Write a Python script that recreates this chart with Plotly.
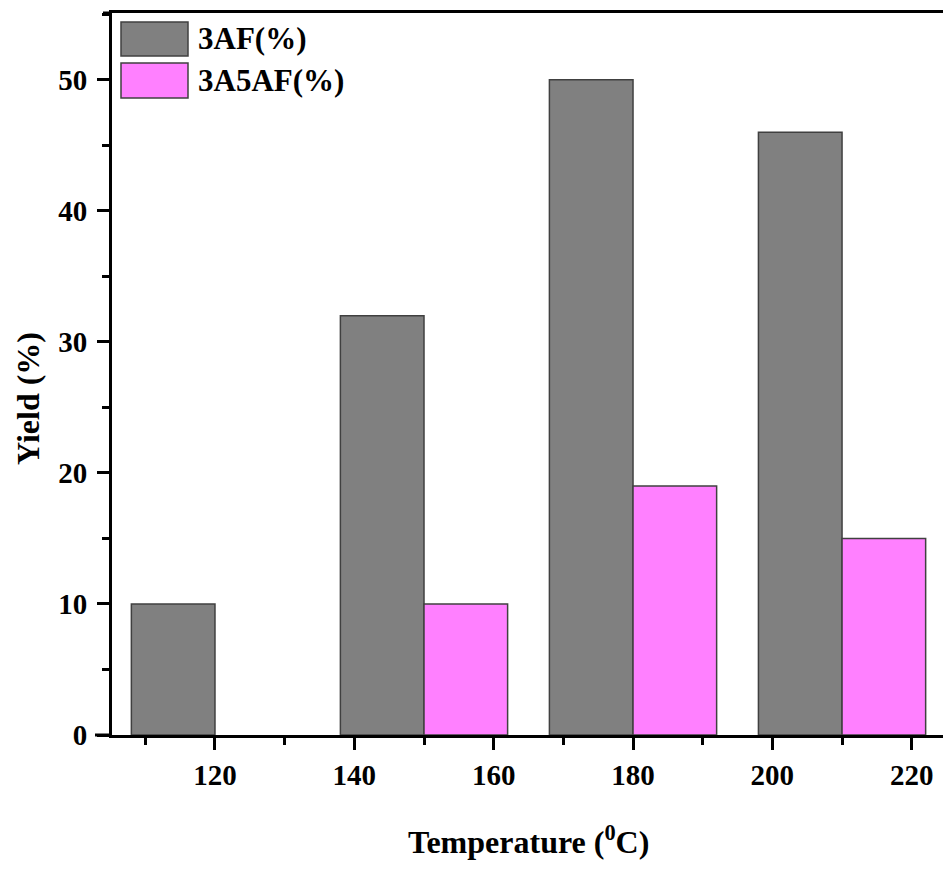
import plotly.graph_objects as go

# Data
temperatures = [120, 150, 180, 210]
yield_3af = [10, 32, 50, 46]
yield_3a5af = [None, 10, 19, 15]
series_names = ["3AF(%)", "3A5AF(%)"]
x_tick_vals = [120, 140, 160, 180, 200, 220]
y_tick_vals = [0, 10, 20, 30, 40, 50]

FONT = "Liberation Serif"
GRAY = "#808080"
PINK = "#FF80FF"

fig = go.Figure()
fig.add_trace(go.Bar(
    x=temperatures, y=yield_3af, width=12, offset=-12, name=series_names[0],
    marker=dict(color=GRAY, line=dict(color="#404040", width=1.5)),
    showlegend=False,
))
fig.add_trace(go.Bar(
    x=temperatures, y=yield_3a5af, width=12, offset=0, name=series_names[1],
    marker=dict(color=PINK, line=dict(color="#404040", width=1.5)),
    showlegend=False,
))

W, H = 943, 869
L, R, T, B = 112, 0, 13, 134
pw = W - L - R
ph = H - T - B

def px_x(x):
    return (x - L) / pw

def px_y(y):
    return (H - B - y) / ph

axis_font = dict(family=FONT, size=29, color="black", weight="bold")

fig.update_layout(
    width=W, height=H,
    margin=dict(l=L, r=R, t=T, b=B, pad=0),
    paper_bgcolor="white", plot_bgcolor="white",
    barmode="overlay",
    xaxis=dict(
        range=[105.22, 224.49],
        tickmode="array", tickvals=x_tick_vals,
        ticktext=[str(v) for v in x_tick_vals],
        ticks="outside", ticklen=12, tickwidth=2.5, tickcolor="black",
        showline=True, linewidth=3, linecolor="black", mirror=True,
        showgrid=False, zeroline=False,
        tickfont=axis_font,
        minor=dict(ticks="outside", ticklen=7, tickwidth=2.5, tickcolor="black",
                   tickmode="array", tickvals=[110, 130, 150, 170, 190, 210], showgrid=False),
    ),
    yaxis=dict(
        range=[0, 55.1],
        tickmode="array", tickvals=y_tick_vals,
        ticks="outside", ticklen=12, tickwidth=2.5, tickcolor="black",
        showline=True, linewidth=3, linecolor="black", mirror=False,
        showgrid=False, zeroline=False,
        tickfont=axis_font,
        ticklabelstandoff=4,
        minor=dict(ticks="outside", ticklen=7, tickwidth=2.5, tickcolor="black",
                   tickmode="array", tickvals=[5, 15, 25, 35, 45, 55], showgrid=False),
    ),
)

title_font = dict(family=FONT, size=32, color="black", weight="bold")
fig.add_annotation(
    text="Temperature (<sup>0</sup>C)", xref="paper", yref="paper",
    x=px_x(528), y=px_y(840), showarrow=False, xanchor="center", yanchor="middle",
    font=title_font,
)
fig.add_annotation(
    text="Yield (%)", xref="paper", yref="paper", textangle=-90,
    x=px_x(28), y=px_y(399), showarrow=False, xanchor="center", yanchor="middle",
    font=title_font,
)

# Legend drawn manually (large swatches as in the reference)
legend_font = dict(family=FONT, size=31, color="black", weight="bold")
for (top, bot), color, name in [((22, 56), GRAY, series_names[0]), ((63, 98), PINK, series_names[1])]:
    fig.add_shape(type="rect", xref="paper", yref="paper",
                  x0=px_x(121), x1=px_x(188), y0=px_y(bot), y1=px_y(top),
                  fillcolor=color, line=dict(color="#404040", width=1.5))
    fig.add_annotation(text=name, xref="paper", yref="paper",
                       x=px_x(196), y=px_y((top + bot) / 2), showarrow=False,
                       xanchor="left", yanchor="middle", font=legend_font)

# Axis line extensions past the corner (as in the reference)
fig.add_shape(type="line", xref="paper", yref="paper", x0=px_x(95), x1=0, y0=0, y1=0,
              line=dict(color="black", width=3))
fig.add_shape(type="line", xref="paper", yref="paper", x0=px_x(103), x1=0, y0=1, y1=1,
              line=dict(color="black", width=3))

fig.write_html(
    "out.html",
    config={"displayModeBar": False},
    post_script="document.body.style.margin='0';document.body.style.overflow='hidden';",
)
